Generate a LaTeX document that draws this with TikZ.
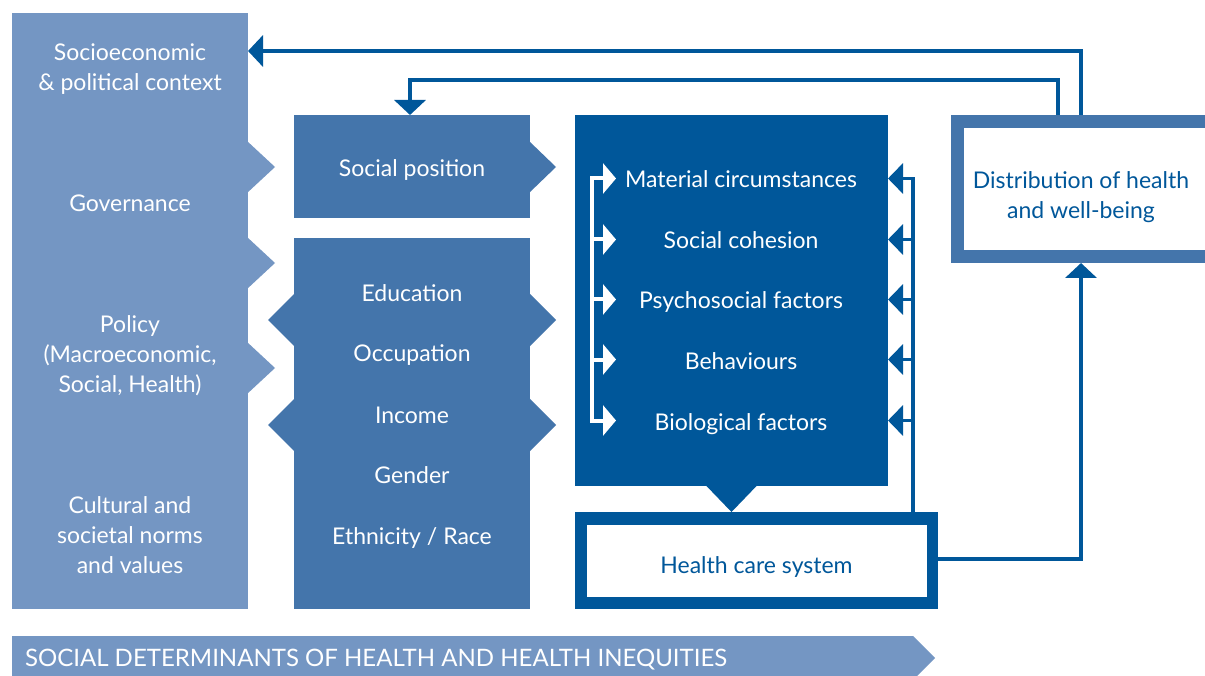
\documentclass[tikz,border=0pt]{standalone}
\usepackage{fontspec}
\setmainfont{Lato}
\usetikzlibrary{arrows.meta}
\definecolor{lightb}{HTML}{7496C3}
\definecolor{midb}{HTML}{4475AB}
\definecolor{darkb}{HTML}{00579A}
\begin{document}
\begin{tikzpicture}[x=1pt,y=-1pt,
  every node/.style={font=\fontsize{23}{30}\selectfont, align=center, inner sep=0pt, outer sep=0pt},
  box/.style={anchor=north west},
  wtext/.style={text=white},
  btext/.style={text=darkb},
  row/.style={text=white, text height=15pt, text depth=5pt},
  flow/.style={draw=darkb, line width=4pt, -{Triangle[length=15pt,width=31pt]}},
  rflow/.style={draw=darkb, line width=3.5pt, -{Triangle[length=15pt,width=30pt]}},
  wflow/.style={draw=white, line width=4pt, -{Triangle[length=13pt,width=30pt]}},
]
\clip (0,0) rectangle (1205,676);
\fill[white] (0,0) rectangle (1205,676);

% left column
\node[box, fill=lightb, minimum width=236pt, minimum height=596pt] (ctx) at (12,13) {};
\fill[lightb] (247,141) -- (275,167) -- (247,193) -- cycle;
\fill[lightb] (247,237) -- (275,263) -- (247,289) -- cycle;
\fill[lightb] (247,342) -- (275,368) -- (247,394) -- cycle;
\node[wtext] (socio) at (130,69) {Socioeconomic\\\& political context};
\node[row] (gov) at (130,207) {Governance};
\node[wtext] (pol) at (130,356) {Policy\\(Macroeconomic,\\Social, Health)};
\node[wtext] (cult) at (130,535) {Cultural and\\societal norms\\and values};

% middle column
\node[box, fill=midb, minimum width=236pt, minimum height=103pt] (socpos) at (294,115) {};
\fill[midb] (529,141) -- (556,167) -- (529,193) -- cycle;
\node[row] (sp) at (412,172) {Social position};
\node[box, fill=midb, minimum width=236pt, minimum height=371pt] (strat) at (294,238) {};
\fill[midb] (529,293) -- (556,320) -- (529,347) -- cycle;
\fill[midb] (529,398) -- (556,425) -- (529,452) -- cycle;
\fill[midb] (295,293) -- (268,320) -- (295,347) -- cycle;
\fill[midb] (295,398) -- (268,425) -- (295,452) -- cycle;
\node[row] (edu) at (412,297) {Education};
\node[row] (occ) at (412,357) {Occupation};
\node[row] (inc) at (412,418) {Income};
\node[row] (gen) at (412,478) {Gender};
\node[row] (eth) at (412,539) {Ethnicity / Race};

% intermediary determinants
\node[box, fill=darkb, minimum width=313pt, minimum height=371pt] (dark) at (575,115) {};
\node[row] (mat) at (741,183) {Material circumstances};
\node[row] (coh) at (741,244) {Social cohesion};
\node[row] (psy) at (741,304) {Psychosocial factors};
\node[row] (beh) at (741,364) {Behaviours};
\node[row] (bio) at (741,425) {Biological factors};

% health care system
\node[box, fill=darkb, minimum width=363pt, minimum height=97pt] (hcs) at (575,512) {};
\node[fill=white, minimum width=340pt, minimum height=72pt] (hcsin) at (hcs.center) {};
\node[row, btext] (hcstext) at ([yshift=-8pt]hcs.center) {Health care system};
\fill[darkb] ([xshift=-26pt,yshift=1pt]dark.south) -- ([xshift=26pt,yshift=1pt]dark.south) -- (hcs.north -| dark.south) -- cycle;

% distribution
\node[box, fill=midb, minimum width=269pt, minimum height=148pt] (dist) at (951,115) {};
\node[box, fill=white, minimum width=243pt, minimum height=122pt] (distin) at (964,128) {};
\node[btext] (dtext) at (1081,197) {Distribution of health\\and well-being};

% coordinates for brackets
\coordinate (lb) at ([xshift=17pt]dark.west);
\coordinate (lt) at ([xshift=41pt]dark.west);
\coordinate (rb) at ([xshift=-25pt]hcs.north east);
\coordinate (r1) at ([yshift=4.5pt]mat.center);
\coordinate (r2) at ([yshift=4.5pt]coh.center);
\coordinate (r3) at ([yshift=4.5pt]psy.center);
\coordinate (r4) at ([yshift=4.5pt]beh.center);
\coordinate (r5) at ([yshift=4.5pt]bio.center);

% white bracket
\draw[white, line width=4pt, line cap=rect] (lb |- r1) -- (lb |- r5);
\foreach \r in {r1,r2,r3,r4,r5}{
  \draw[wflow] (lb |- \r) -- (lt |- \r);
}
% right bracket
\draw[darkb, line width=3.5pt, line cap=rect] (rb) -- (rb |- r1);
\foreach \r in {r1,r2,r3,r4,r5}{
  \draw[rflow] (rb |- \r) -- (dark.east |- \r);
}

% feedback connectors
\draw[flow] ([xshift=130pt]dist.north west) |- ([yshift=-38pt]ctx.north east);
\draw[flow] ([xshift=107pt]dist.north west) -- ++(0,-35) -| ([xshift=116pt]socpos.north west);
\draw[flow] ([yshift=2pt]hcs.east) -| ([xshift=130pt]dist.south west);

% banner
\fill[lightb] (12,636) -- (913,636) -- (935,658) -- (913,680) -- (12,680) -- cycle;
\node[wtext, anchor=west, font=\fontsize{24}{26}\selectfont] (banner) at (25,660) {SOCIAL DETERMINANTS OF HEALTH AND HEALTH INEQUITIES};
\end{tikzpicture}
\end{document}
